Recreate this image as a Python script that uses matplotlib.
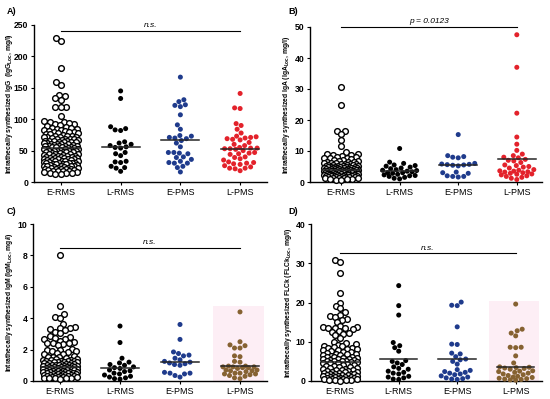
import numpy as np
import matplotlib
matplotlib.use('Agg')
import matplotlib.pyplot as plt
from matplotlib.patches import Rectangle

plt.rcParams['font.family'] = ['Liberation Sans', 'DejaVu Sans']
plt.rcParams['mathtext.fontset'] = 'custom'
plt.rcParams['mathtext.rm'] = 'Liberation Sans'
plt.rcParams['mathtext.bf'] = 'Liberation Sans:bold'
plt.rcParams['mathtext.it'] = 'Liberation Sans:italic'

groups = ['E-RMS', 'L-RMS', 'E-PMS', 'L-PMS']

# ---------------- Panel A: IgG ----------------
igg_e_rms = [229, 225, 181, 160, 155, 139, 137, 133, 131, 120, 120, 119, 105, 97, 96, 95, 93, 92,
             94, 91, 89, 88, 86, 86, 85,
             84, 83, 83, 82, 81, 80, 80, 79, 78, 78, 77, 76, 75,
             74, 74, 73, 72, 72, 71, 71, 70, 69, 69, 68, 68, 67, 67, 66, 66, 65, 65,
             64, 64, 63, 63, 62, 62, 61, 60, 60, 60, 59, 59, 58, 58, 57, 57, 57, 56, 56, 55, 55,
             54, 54, 53, 53, 52, 52, 51, 51, 50, 50, 50, 49, 49, 48, 48, 47, 47, 46, 46, 45, 45,
             44, 44, 43, 43, 42, 42, 41, 41, 40, 40, 40, 39, 39, 38, 38, 37, 37, 36, 36, 35, 35, 35,
             34, 34, 33, 33, 32, 32, 31, 31, 30, 30, 30, 29, 29, 28, 28, 27, 27, 26, 26, 25, 25, 25,
             24, 24, 23, 23, 22, 22, 21, 21, 20, 20, 20, 19, 19, 18, 18, 17, 17, 16, 16, 15,
             14, 14, 13, 12]
igg_l_rms = [145, 133, 88, 85, 83, 82, 64, 62, 60, 58, 56, 55, 54, 47, 45, 42, 33, 32, 31, 25, 23, 22, 17]
igg_e_pms = [167, 131, 128, 123, 122, 120, 107, 91, 84, 74, 73, 71, 70, 69, 66, 62, 56,
             47, 47, 46, 45, 40, 39, 36, 33, 31, 30, 30, 25, 23, 16]
igg_l_pms = [141, 118, 117, 93, 90, 84, 78, 73, 72, 71, 70, 69, 68, 67, 63, 60, 58, 55, 54, 54,
             53, 53, 52, 50, 47, 46, 45, 44, 40, 39, 37, 35, 32, 31, 30, 29, 28, 26, 24, 22, 22, 21, 18]
igg_medians = [54, 55, 67, 53]

# ---------------- Panel B: IgA ----------------
iga_e_rms = [30.7, 25.0, 16.6, 16.3, 15.4, 13.6, 11.7, 9.6, 9.0, 8.9, 8.8, 8.6, 8.4, 8.2, 8.0, 7.9, 7.7, 7.6,
             7.3, 7.1, 7.0, 6.8, 6.7, 6.6, 6.5, 6.3, 6.2, 6.1, 6.0, 5.9, 5.8, 5.8, 5.7, 5.6, 5.5, 5.5,
             5.4, 5.3, 5.2, 5.2, 5.1, 5.0, 5.0, 4.9, 4.8, 4.8, 4.7, 4.7, 4.6, 4.6, 4.5, 4.5, 4.4, 4.4,
             4.3, 4.3, 4.2, 4.2, 4.1, 4.1, 4.0, 4.0, 4.0,
             3.9, 3.9, 3.8, 3.8, 3.7, 3.7, 3.6, 3.6, 3.5, 3.5, 3.5, 3.4, 3.4, 3.3, 3.3, 3.2, 3.2, 3.1,
             3.1, 3.0, 3.0, 3.0, 2.9, 2.9, 2.8, 2.8, 2.7, 2.7, 2.6, 2.6, 2.5, 2.5, 2.5, 2.4, 2.4, 2.3,
             2.3, 2.2, 2.2, 2.1, 2.1, 2.0, 2.0, 2.0, 1.9, 1.9, 1.8, 1.8, 1.7, 1.7, 1.6, 1.6, 1.5, 1.5,
             1.4, 1.4, 1.3, 1.3, 1.2, 1.1, 1.0, 0.9, 0.8, 0.7]
iga_l_rms = [10.8, 6.4, 6.0, 5.5, 5.3, 5.1, 4.8, 4.5, 4.3, 4.0, 3.8, 3.7, 3.5, 3.3, 3.0, 3.0,
             2.8, 2.5, 2.3, 2.1, 2.0, 1.8, 1.5, 1.2, 1.0]
iga_e_pms = [15.3, 8.5, 8.2, 8.0, 7.8, 6.0, 5.8, 5.7, 5.6, 5.5, 5.4, 5.2, 3.2, 3.0, 2.8, 2.0, 1.8, 1.8, 1.6]
iga_l_pms = [47.5, 37.0, 22.2, 14.5, 12.2, 10.2, 9.0, 8.5, 8.0, 7.8, 7.3, 7.0, 6.8, 6.3, 5.5, 5.3,
             5.0, 4.8, 4.5, 4.0, 3.8, 3.6, 3.5, 3.3, 3.2, 3.0, 2.8, 2.6, 2.5, 2.3, 2.0, 1.8, 1.5, 1.2, 0.8]
iga_medians = [4.0, 3.7, 5.4, 7.5]

# ---------------- Panel C: IgM ----------------
igm_e_rms = [8.05, 4.75, 4.25, 4.1, 4.0, 3.65, 3.45, 3.4, 3.35, 3.3, 3.25, 3.1, 3.05, 2.85, 2.8, 2.75,
             2.7, 2.65, 2.55, 2.5, 2.45, 2.4, 2.4, 2.35, 2.3, 2.05, 2.0, 1.95, 1.9, 1.9, 1.85, 1.8,
             1.75, 1.7, 1.6, 1.55, 1.5, 1.5, 1.45,
             1.4, 1.38, 1.36, 1.35, 1.32, 1.3, 1.3, 1.27, 1.25, 1.24, 1.2, 1.2, 1.18, 1.16, 1.15,
             1.12, 1.1, 1.1, 1.08, 1.05, 1.04, 1.02, 1.0, 1.0, 0.98, 0.97, 0.95, 0.93, 0.92, 0.9,
             0.9, 0.88, 0.86, 0.85, 0.83, 0.82, 0.8, 0.8, 0.78, 0.76, 0.75, 0.73, 0.72, 0.7, 0.7,
             0.68, 0.66, 0.65, 0.63, 0.62, 0.6, 0.6, 0.58, 0.56, 0.55, 0.53, 0.52, 0.5, 0.5, 0.48,
             0.47, 0.45, 0.44, 0.42, 0.4, 0.4, 0.38, 0.37, 0.35, 0.34, 0.32, 0.3, 0.3, 0.28, 0.27,
             0.25, 0.24, 0.22, 0.2, 0.2, 0.18, 0.17, 0.15]
igm_l_rms = [3.5, 2.45, 1.45, 1.2, 1.15, 1.05, 1.0, 0.9, 0.85, 0.8, 0.7, 0.65, 0.6, 0.5, 0.45,
             0.38, 0.3, 0.25, 0.2, 0.15, 0.12]
igm_e_pms = [3.6, 2.65, 1.85, 1.75, 1.65, 1.6, 1.45, 1.35, 1.25, 1.2, 1.15, 1.1, 1.05, 1.0,
             0.55, 0.5, 0.5, 0.45, 0.35, 0.25]
igm_l_pms = [4.4, 2.5, 2.3, 2.25, 2.1, 2.1, 1.6, 1.55, 1.25, 1.2, 0.95, 0.95, 0.9, 0.9, 0.9, 0.85,
             0.85, 0.8, 0.7, 0.7, 0.65, 0.65, 0.6, 0.5, 0.5, 0.45, 0.45, 0.4, 0.35, 0.3, 0.2, 0.15]
igm_medians = [0.9, 0.83, 1.22, 0.95]

# ---------------- Panel D: FLCk ----------------
flck_e_rms = [30.8, 30.2, 27.5, 22.3, 20.0, 19.2, 18.5, 17.6, 16.8, 16.5, 16.3, 15.8, 15.5, 15.0,
              14.0, 13.8, 13.7, 13.6, 13.5, 13.4, 13.2, 12.8, 12.6, 12.3, 12.1, 11.6, 11.0, 10.0, 9.8,
              9.4, 9.1, 8.9, 8.8, 8.6, 8.5, 8.4, 8.2, 8.1, 8.0,
              7.8, 7.6, 7.5, 7.3, 7.2, 7.0, 6.9, 6.8, 6.6, 6.5, 6.4, 6.2, 6.1, 6.0, 5.9, 5.8, 5.7,
              5.6, 5.5, 5.4, 5.3, 5.2, 5.1, 5.0, 5.0,
              4.9, 4.8, 4.6, 4.5, 4.5, 4.3, 4.2, 4.0, 3.9, 3.8, 3.6, 3.5, 3.4, 3.3, 3.1, 3.0, 2.9,
              2.8, 2.7, 2.6, 2.5, 2.4, 2.3, 2.2, 2.1, 2.0, 1.9, 1.9, 1.8, 1.7, 1.6, 1.6, 1.5, 1.4,
              1.3, 1.3, 1.2, 1.1, 1.0, 1.0, 0.9, 0.8, 0.8, 0.7, 0.6, 0.6, 0.5, 0.5, 0.4, 0.4, 0.3,
              0.3, 0.2, 0.2, 0.1]
flck_l_rms = [24.3, 19.2, 16.8, 9.8, 9.0, 8.5, 7.6, 5.2, 5.0, 4.6, 4.2, 3.6, 3.2, 3.0, 2.5, 2.2,
              2.0, 1.8, 1.2, 1.0, 0.8, 0.5, 0.4]
flck_e_pms = [20.1, 19.3, 19.2, 13.8, 9.4, 9.3, 7.1, 6.9, 6.2, 5.6, 5.4, 5.0, 4.3, 2.9, 2.7, 2.4,
              2.2, 2.0, 1.8, 1.6, 1.3, 1.0, 0.8, 0.6, 0.5, 0.4]
flck_l_pms = [19.6, 13.2, 12.8, 12.2, 11.5, 8.6, 8.6, 8.5, 6.4, 4.6, 3.6, 3.5, 3.4, 3.3, 3.2, 3.0,
              2.6, 2.5, 2.4, 2.2, 2.0, 1.8, 1.6, 1.4, 1.2, 1.0, 0.9, 0.7, 0.6, 0.5, 0.4, 0.3, 0.2]
flck_medians = [4.9, 5.5, 5.5, 3.5]

ylabels = [r'Intrathecally synthesized IgG  (IgG$_{\mathbf{Loc}}$, mg/l)',
           r'Intrathecally synthesized IgA (IgA$_{\mathbf{Loc}}$, mg/l)',
           r'Intrathecally synthesized IgM (IgM$_{\mathbf{Loc}}$, mg/l)',
           r'Intrathecally synthesized FLCk (FLCk$_{\mathbf{Loc}}$, mg/l)']
sig_text = ['n.s.', 'p = 0.0123', 'n.s.', 'n.s.']
sig_level = [240, 50, 8.5, 32.5]
yticks = [[0, 50, 100, 150, 200, 250], [0, 10, 20, 30, 40, 50], [0, 2, 4, 6, 8, 10], [0, 10, 20, 30, 40]]
letters = ['A)', 'B)', 'C)', 'D)']

panels = [
    [igg_e_rms, igg_l_rms, igg_e_pms, igg_l_pms],
    [iga_e_rms, iga_l_rms, iga_e_pms, iga_l_pms],
    [igm_e_rms, igm_l_rms, igm_e_pms, igm_l_pms],
    [flck_e_rms, flck_l_rms, flck_e_pms, flck_l_pms],
]
medians = [igg_medians, iga_medians, igm_medians, flck_medians]

W, H = 550, 399
# axes boxes in pixels: left, right, top, bottom
boxes = [(34, 267, 25, 182), (310, 542, 27, 182), (33, 267, 224, 381), (311, 542, 224, 381)]
xlims = [(-0.45, 3.45), (-0.53, 3.43), (-0.45, 3.45), (-0.5, 3.45)]
letter_pos = [(7, 12), (288, 12), (7, 211), (288, 211)]
label_x = [9.5, 287, 9.5, 288]

blue = '#1f3b8c'
red = '#e3222b'
brown = '#866232'
colors_ab = ['white', 'black', blue, red]
colors_cd = ['white', 'black', blue, brown]


def swarm(vals_px, d, maxw):
    n = len(vals_px)
    xs = np.zeros(n)
    order = np.argsort(vals_px, kind='stable')
    cands = np.arange(-maxw, maxw + 0.01, 0.5)
    cands = cands[np.argsort(np.abs(cands) + (cands > 0) * 1e-3, kind='stable')]
    py_list, px_list = [], []
    for i in order:
        y = vals_px[i]
        if py_list:
            py = np.array(py_list)
            px = np.array(px_list)
            m = np.abs(py - y) < d
            py, px = py[m], px[m]
        else:
            py = np.array([])
        if len(py) == 0:
            x = 0.0
        else:
            dist = np.sqrt((cands[:, None] - px[None, :]) ** 2 + (y - py[None, :]) ** 2).min(axis=1)
            ok = dist >= d
            if ok.any():
                x = cands[np.argmax(ok)]
            else:
                x = cands[np.argmax(dist)]
        xs[i] = x
        py_list.append(y)
        px_list.append(x)
    return xs


fig = plt.figure(figsize=(W / 100, H / 100), dpi=100)

for p in range(4):
    l, r, t, b = boxes[p]
    ax = fig.add_axes([l / W, 1 - b / H, (r - l) / W, (b - t) / H])
    ymax = yticks[p][-1]
    ax.set_ylim(0, ymax)
    ax.set_xlim(*xlims[p])
    px_per_y = (b - t) / ymax
    px_per_x = (r - l) / (xlims[p][1] - xlims[p][0])
    cols = colors_ab if p < 2 else colors_cd

    if p >= 2:
        top = 4.8 if p == 2 else 20.5
        ax.add_patch(Rectangle((2.55, 0), 0.85, top, facecolor='#fdeef5', edgecolor='none', zorder=0))

    for g in range(4):
        vals = np.array(panels[p][g], dtype=float)
        xs = swarm(vals * px_per_y, 5.2, 17.0) / px_per_x + g
        if g == 0:
            ax.scatter(xs, vals, s=17, facecolors='white', edgecolors='black', linewidths=1.0,
                       zorder=3, clip_on=False)
        else:
            ax.scatter(xs, vals, s=13, facecolors=cols[g], edgecolors='none', zorder=3, clip_on=False)
        mline = medians[p][g]
        ax.plot([g - 0.32, g + 0.32], [mline, mline], color='#262626', lw=1.1, zorder=4)

    # significance line
    ax.plot([0, 3], [sig_level[p], sig_level[p]], color='black', lw=0.8, clip_on=False, zorder=5)
    ax.text(1.5, sig_level[p] + ymax * 0.012, sig_text[p], ha='center', va='bottom',
            fontsize=6, style='italic', clip_on=False)

    ax.spines['top'].set_visible(False)
    ax.spines['right'].set_visible(False)
    ax.spines['left'].set_linewidth(1.0)
    ax.spines['bottom'].set_linewidth(1.0)
    ax.set_yticks(yticks[p])
    ax.set_yticklabels([str(v) for v in yticks[p]], fontsize=6.2, fontweight='bold')
    ax.set_xticks(range(4))
    ax.set_xticklabels(groups, fontsize=6.5)
    ax.tick_params(axis='both', direction='out', length=2.5, width=0.8, pad=1.5)

    fig.text(label_x[p] / W, 1 - ((t + b) / 2) / H, ylabels[p], rotation=90, fontsize=4.9,
             fontweight='bold', ha='center', va='center')

    fig.text(letter_pos[p][0] / W, 1 - letter_pos[p][1] / H, letters[p], fontsize=6.5,
             fontweight='bold', ha='left', va='center')

fig.savefig('out.png', dpi=100)
